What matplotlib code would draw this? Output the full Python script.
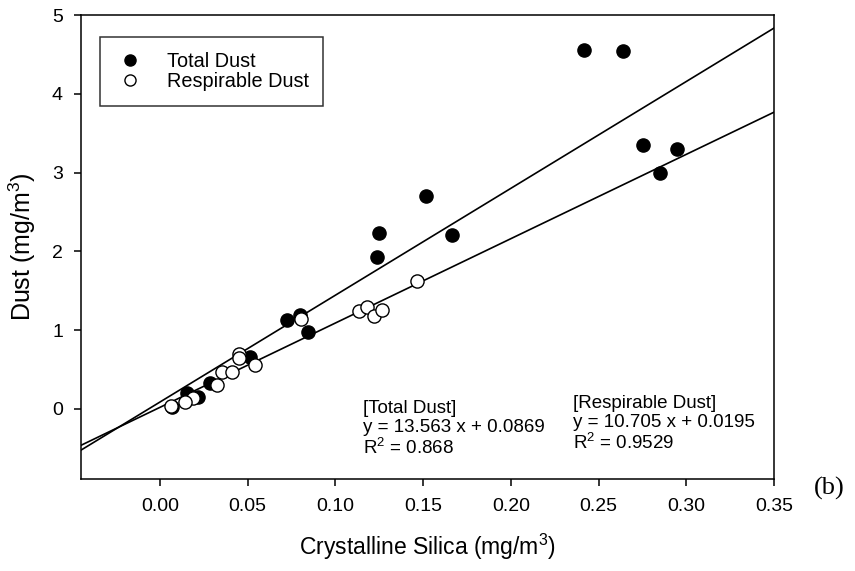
import matplotlib
matplotlib.use("Agg")
import matplotlib.pyplot as plt
import numpy as np
from matplotlib.lines import Line2D

plt.rcParams['font.family'] = ['Liberation Sans', 'DejaVu Sans']
plt.rcParams['mathtext.fontset'] = 'custom'
plt.rcParams['mathtext.rm'] = 'Liberation Sans'
plt.rcParams['mathtext.default'] = 'regular'

# Data
total_x = [0.2417, 0.2640, 0.2754, 0.2947, 0.2850, 0.1517, 0.1249, 0.1237, 0.1665,
           0.0724, 0.0798, 0.0844, 0.0513, 0.0285, 0.0154, 0.0217, 0.0070]
total_y = [4.556, 4.543, 3.35, 3.30, 2.995, 2.70, 2.235, 1.93, 2.21,
           1.13, 1.19, 0.977, 0.66, 0.33, 0.20, 0.15, 0.02]
resp_x = [0.1465, 0.1135, 0.1180, 0.1220, 0.1266, 0.0804, 0.0450, 0.0450, 0.0541,
          0.0353, 0.0410, 0.0325, 0.0188, 0.0142, 0.0063]
resp_y = [1.62, 1.24, 1.29, 1.18, 1.25, 1.14, 0.70, 0.64, 0.56,
          0.47, 0.47, 0.30, 0.14, 0.09, 0.04]
total_fit = (13.563, 0.0869)
resp_fit = (10.705, 0.0195)
xlim = (-0.045, 0.35)
ylim = (-0.89, 5.0)
xticks = [0.00, 0.05, 0.10, 0.15, 0.20, 0.25, 0.30, 0.35]
yticks = [0, 1, 2, 3, 4, 5]

fig = plt.figure(figsize=(8.55, 5.71), dpi=100)
ax = fig.add_axes([81/855, 1-479/571, (774-81)/855, (479-15)/571])

xs = np.array(xlim)
ax.plot(xs, total_fit[0]*xs + total_fit[1], color='black', lw=1.2, zorder=2)
ax.plot(xs, resp_fit[0]*xs + resp_fit[1], color='black', lw=1.2, zorder=2)

ax.scatter(total_x, total_y, s=90, c='black', edgecolors='black', linewidths=1.0, zorder=3)
ax.scatter(resp_x, resp_y, s=90, c='white', edgecolors='black', linewidths=1.0, zorder=4)

ax.set_xlim(xlim)
ax.set_ylim(ylim)
ax.set_xticks(xticks)
ax.set_xticklabels([f"{v:.2f}" for v in xticks])
ax.set_yticks(yticks)
ax.tick_params(direction='out', length=5, width=1.1, labelsize=14)
ax.tick_params(axis='x', pad=9)
ax.tick_params(axis='y', pad=8)
for sp in ax.spines.values():
    sp.set_linewidth(1.1)

ax.set_xlabel(r'Crystalline Silica (mg/m$^{3}$)', fontsize=16.5, labelpad=12)
ax.set_ylabel(r'Dust (mg/m$^{3}$)', fontsize=18, labelpad=10)

# Legend
handles = [Line2D([], [], marker='o', ls='none', mfc='black', mec='black', ms=8),
           Line2D([], [], marker='o', ls='none', mfc='white', mec='black', ms=8)]
leg = ax.legend(handles, ['Total Dust', 'Respirable Dust'], loc='upper left',
                bbox_to_anchor=((100-81)/693, (479-37)/464), fontsize=14.3,
                frameon=True, fancybox=False, edgecolor='black', borderpad=0.75,
                handletextpad=1.1, labelspacing=0.05, borderaxespad=0, handlelength=1.5)
leg.get_frame().set_linewidth(1.1)

ax.text(0.1157, -0.254, '[Total Dust]\ny = 13.563 x + 0.0869\nR$^{2}$ = 0.868',
        fontsize=13.5, va='center', ha='left', linespacing=1.12)
ax.text(0.2355, -0.19, '[Respirable Dust]\ny = 10.705 x + 0.0195\nR$^{2}$ = 0.9529',
        fontsize=13.5, va='center', ha='left', linespacing=1.12)

fig.text(814/855, 1-488/571, '(b)', fontsize=19, family=['Liberation Serif'],
         va='center', ha='left')

fig.savefig('out.png', dpi=100)
